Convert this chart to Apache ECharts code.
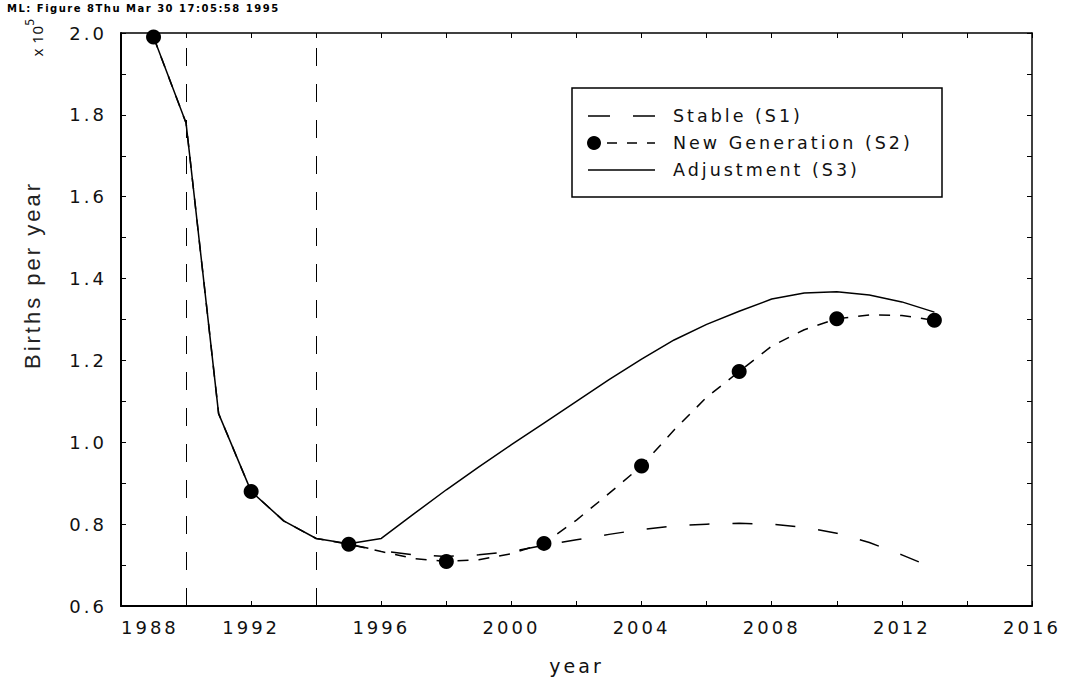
<!DOCTYPE html>
<html>
<head>
<meta charset="utf-8">
<script src="https://cdn.jsdelivr.net/npm/echarts@6/dist/echarts.min.js"></script>
<style>
  html, body { margin: 0; padding: 0; background: #fff; }
  #chart { width: 1065px; height: 680px; }
  /* plotter-style spaced lettering */
  #chart text { letter-spacing: 3px; }
  #chart text[style*="bold"] { letter-spacing: 1.5px; }
  #chart text[style*="Noto"] { letter-spacing: 0.5px; }
</style>
</head>
<body>
<div id="chart"></div>
<script>
// Births per year (x 10^5) under three scenarios
const years = [1989, 1990, 1991, 1992, 1993, 1994, 1995, 1996, 1997, 1998, 1999, 2000, 2001,
               2002, 2003, 2004, 2005, 2006, 2007, 2008, 2009, 2010, 2011, 2012, 2013];

// Adjustment (S3)
const adjustment = [1.99, 1.78, 1.07, 0.88, 0.808, 0.765, 0.752, 0.765, 0.825, 0.884, 0.940, 0.994, 1.047,
                    1.100, 1.153, 1.203, 1.250, 1.288, 1.320, 1.350, 1.365, 1.368, 1.360, 1.343, 1.318];

// New Generation (S2)
const newGeneration = [1.99, 1.78, 1.07, 0.88, 0.808, 0.765, 0.751, 0.733, 0.716, 0.709, 0.713, 0.728, 0.753,
                       0.810, 0.875, 0.942, 1.030, 1.110, 1.173, 1.235, 1.275, 1.302, 1.311, 1.310, 1.298];
// years where the New Generation scenario is marked with a dot
const markerYears = [1989, 1992, 1995, 1998, 2001, 2004, 2007, 2010, 2013];

// Stable (S1), diverging from 1995
const stableYears = [1995, 1996, 1997, 1998, 1999, 2000, 2001, 2002, 2003, 2004,
                     2005, 2006, 2007, 2008, 2009, 2010, 2011, 2012, 2013];
const stable = [0.751, 0.735, 0.725, 0.721, 0.725, 0.733, 0.748, 0.762, 0.775, 0.787,
                0.796, 0.800, 0.802, 0.800, 0.792, 0.778, 0.755, 0.725, 0.692];

// reference years drawn as vertical dashed lines
const referenceYears = [1990, 1994];

const xTicks = { min: 1988, max: 2016, interval: 4 };
const yTicks = { min: 0.6, max: 2.0, interval: 0.2 };

const legendLabels = ['Stable (S1)', 'New Generation (S2)', 'Adjustment (S3)'];
const headerText = 'ML: Figure 8Thu Mar 30 17:05:58 1995';

const pair = (xs, ys) => xs.map((x, i) => [x, ys[i]]);
const markers = markerYears.map(y => [y, newGeneration[years.indexOf(y)]]);

const tickFont = { fontFamily: 'DejaVu Sans', fontSize: 18, color: '#111' };
const black = '#000';

function frameAxis(extra) {
  return Object.assign({
    type: 'value',
    axisLine: { show: true, lineStyle: { color: black, width: 2 } },
    axisTick: { show: true, inside: true, length: 5, lineStyle: { color: black, width: 1 } },
    minorTick: { show: true, splitNumber: 2, length: 5, lineStyle: { color: black, width: 1 } },
    splitLine: { show: false },
    minorSplitLine: { show: false }
  }, extra);
}

const chart = echarts.init(document.getElementById('chart'), null, { renderer: 'svg' });

const lx = 588, lx2 = 655, ltx = 673, rows = [116, 143, 170];

chart.setOption({
  backgroundColor: '#fff',
  animation: false,
  grid: { left: 121, right: 33, top: 33, bottom: 71, containLabel: false },
  xAxis: [
    frameAxis(Object.assign({
      position: 'bottom',
      name: 'year',
      nameLocation: 'middle',
      nameGap: 50,
      nameTextStyle: { fontFamily: 'DejaVu Sans', fontSize: 19, color: '#111' },
      axisLabel: Object.assign({ margin: 12, formatter: v => String(v),
        alignMinLabel: 'left', alignMaxLabel: 'center' }, tickFont)
    }, xTicks)),
    frameAxis(Object.assign({
      position: 'top',
      axisLine: { show: true, lineStyle: { color: black, width: 1.5 } },
      axisLabel: { show: false }
    }, xTicks))
  ],
  yAxis: [
    frameAxis(Object.assign({
      position: 'left',
      axisLabel: Object.assign({ margin: 14, formatter: v => v.toFixed(1) }, tickFont)
    }, yTicks)),
    frameAxis(Object.assign({
      position: 'right',
      axisLine: { show: true, lineStyle: { color: black, width: 1.5 } },
      axisLabel: { show: false }
    }, yTicks))
  ],
  series: [
    {
      name: 'Adjustment (S3)',
      type: 'line',
      data: pair(years, adjustment),
      showSymbol: false,
      lineStyle: { color: black, width: 1.5 },
      z: 3,
      markLine: {
        silent: true,
        symbol: ['none', 'none'],
        label: { show: false },
        lineStyle: { color: black, width: 1, type: [18, 18] },
        data: referenceYears.map(y => ({ xAxis: y }))
      }
    },
    {
      name: 'New Generation (S2)',
      type: 'line',
      data: pair(years, newGeneration),
      showSymbol: false,
      lineStyle: { color: black, width: 1.5, type: [11, 10] },
      z: 2
    },
    {
      name: 'New Generation (S2) markers',
      type: 'scatter',
      data: markers,
      symbol: 'circle',
      symbolSize: 15,
      itemStyle: { color: black, opacity: 1 },
      z: 4
    },
    {
      name: 'Stable (S1)',
      type: 'line',
      data: pair(stableYears, stable),
      showSymbol: false,
      lineStyle: { color: black, width: 1.5, type: [20, 23] },
      z: 2
    }
  ],
  graphic: [
    {
      type: 'text', left: 7, top: 3,
      style: { text: headerText, font: 'bold 10px "DejaVu Sans"', fill: '#000' }
    },
    {
      type: 'text', x: 32, y: 275, rotation: Math.PI / 2,
      style: { text: 'Births per year', font: '22px "Liberation Sans"', fill: '#222',
               align: 'center', verticalAlign: 'middle' }
    },
    // unit marker: x 10^5, read bottom to top
    {
      type: 'text', x: 37, y: 41, rotation: Math.PI / 2,
      style: { text: 'x 10', font: '15px "Noto Sans"', fill: '#111',
               align: 'center', verticalAlign: 'middle' }
    },
    {
      type: 'text', x: 29, y: 22, rotation: Math.PI / 2,
      style: { text: '5', font: '12px "Noto Sans"', fill: '#111',
               align: 'center', verticalAlign: 'middle' }
    },
    // legend box
    {
      type: 'group',
      children: [
        { type: 'rect', shape: { x: 572, y: 88, width: 370, height: 109 },
          style: { fill: '#fff', stroke: black, lineWidth: 1.5 } },
        { type: 'line', shape: { x1: lx, y1: rows[0], x2: lx2, y2: rows[0] },
          style: { stroke: black, lineWidth: 1.5, lineDash: [22, 23] } },
        { type: 'circle', shape: { cx: 594, cy: rows[1], r: 7 }, style: { fill: black } },
        { type: 'line', shape: { x1: 607, y1: rows[1], x2: lx2, y2: rows[1] },
          style: { stroke: black, lineWidth: 1.5, lineDash: [10, 10] } },
        { type: 'line', shape: { x1: lx, y1: rows[2], x2: lx2, y2: rows[2] },
          style: { stroke: black, lineWidth: 1.5 } },
        ...legendLabels.map((t, i) => ({
          type: 'text', x: ltx, y: rows[i],
          style: { text: t, font: '17.5px "DejaVu Sans"', fill: '#111', verticalAlign: 'middle' }
        }))
      ]
    }
  ]
});
</script>
</body>
</html>
